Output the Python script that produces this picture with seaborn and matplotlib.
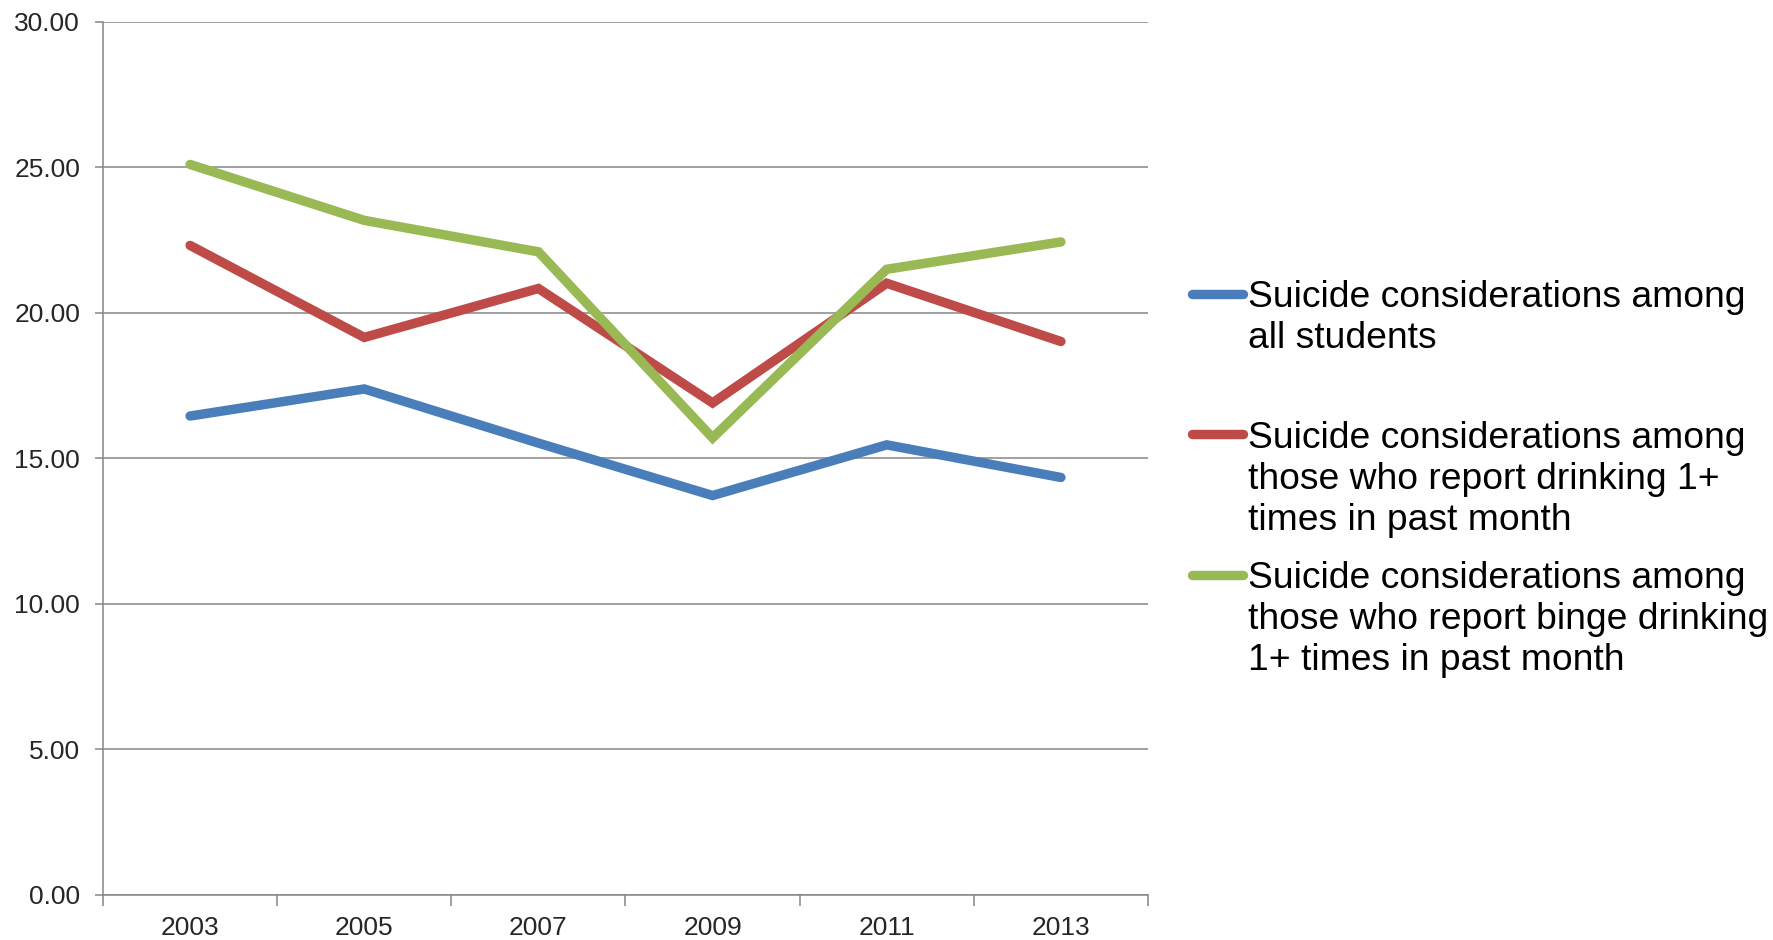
import matplotlib
matplotlib.use("Agg")
import matplotlib.pyplot as plt
import seaborn as sns
import pandas as pd
from matplotlib.lines import Line2D
from matplotlib.ticker import FormatStrFormatter

# Survey years and rates (%) of students reporting suicide considerations
years = ["2003", "2005", "2007", "2009", "2011", "2013"]
all_students = [16.45, 17.38, 15.52, 13.72, 15.46, 14.34]
drinkers = [22.31, 19.15, 20.83, 16.90, 21.01, 19.01]
binge_drinkers = [25.09, 23.17, 22.09, 15.70, 21.49, 22.43]

series_labels = [
    "Suicide considerations among\nall students",
    "Suicide considerations among\nthose who report drinking 1+\ntimes in past month",
    "Suicide considerations among\nthose who report binge drinking\n1+ times in past month",
]
series_colors = ["#4A7EBB", "#BE4B48", "#98B954"]
y_ticks = [0, 5, 10, 15, 20, 25, 30]

W, H = 1774, 940

sns.set_theme(style="white")
plt.rcParams["font.family"] = ["Liberation Sans", "DejaVu Sans"]

frames = []
for label, vals in zip(series_labels, [all_students, drinkers, binge_drinkers]):
    frames.append(pd.DataFrame({"year": years, "value": vals, "series": label}))
df = pd.concat(frames, ignore_index=True)

fig = plt.figure(figsize=(W / 100, H / 100), dpi=100)
left, right, top, bottom = 103, 1148, 21.5, 895
ax = fig.add_axes([left / W, 1 - bottom / H, (right - left) / W, (bottom - top) / H])

sns.lineplot(data=df, x="year", y="value", hue="series", hue_order=series_labels,
             palette=series_colors, linewidth=6.8, legend=False, ax=ax)
for ln in ax.lines:
    ln.set_solid_capstyle("round")
    ln.set_solid_joinstyle("miter")

grid_color = "#868686"
ax.set_ylim(0, 30)
ax.set_xlim(-0.5, len(years) - 0.5)
ax.set_yticks(y_ticks)
ax.yaxis.set_major_formatter(FormatStrFormatter("%.2f"))
ax.yaxis.grid(True, color=grid_color, linewidth=1.1)
ax.xaxis.grid(False)
ax.set_axisbelow(True)

# category boundaries carry the tick marks, labels sit at category centres
ax.set_xticks([i - 0.5 for i in range(len(years) + 1)])
ax.set_xticklabels([""] * (len(years) + 1))
ax.set_xticks(range(len(years)), minor=True)
ax.set_xticklabels(years, minor=True)
ax.tick_params(axis="x", which="major", bottom=True, length=8, width=1.1, color=grid_color)
ax.tick_params(axis="x", which="minor", bottom=True, length=0, pad=15, labelsize=19)
ax.tick_params(axis="y", left=True, length=6, width=1.1, color=grid_color, pad=10.5, labelsize=19)
ax.set_xlabel("")
ax.set_ylabel("")

for side in ("top", "right"):
    ax.spines[side].set_visible(False)
for side in ("left", "bottom"):
    ax.spines[side].set_color(grid_color)
    ax.spines[side].set_linewidth(1.1)

# legend to the right of the plot, one equal-height slot per series
first_line_y = [294, 434.5, 575]
for label, color, yp in zip(series_labels, series_colors, first_line_y):
    yf = 1 - yp / H
    fig.add_artist(Line2D([1192 / W, 1243 / W], [yf, yf], color=color, linewidth=6.8,
                          solid_capstyle="round", transform=fig.transFigure))
    fig.text(1248 / W, 1 - (yp - 14) / H, label, fontsize=26.8, va="top", ha="left",
             linespacing=1.23, color="black")

fig.savefig("out.png", dpi=100, facecolor="white")
